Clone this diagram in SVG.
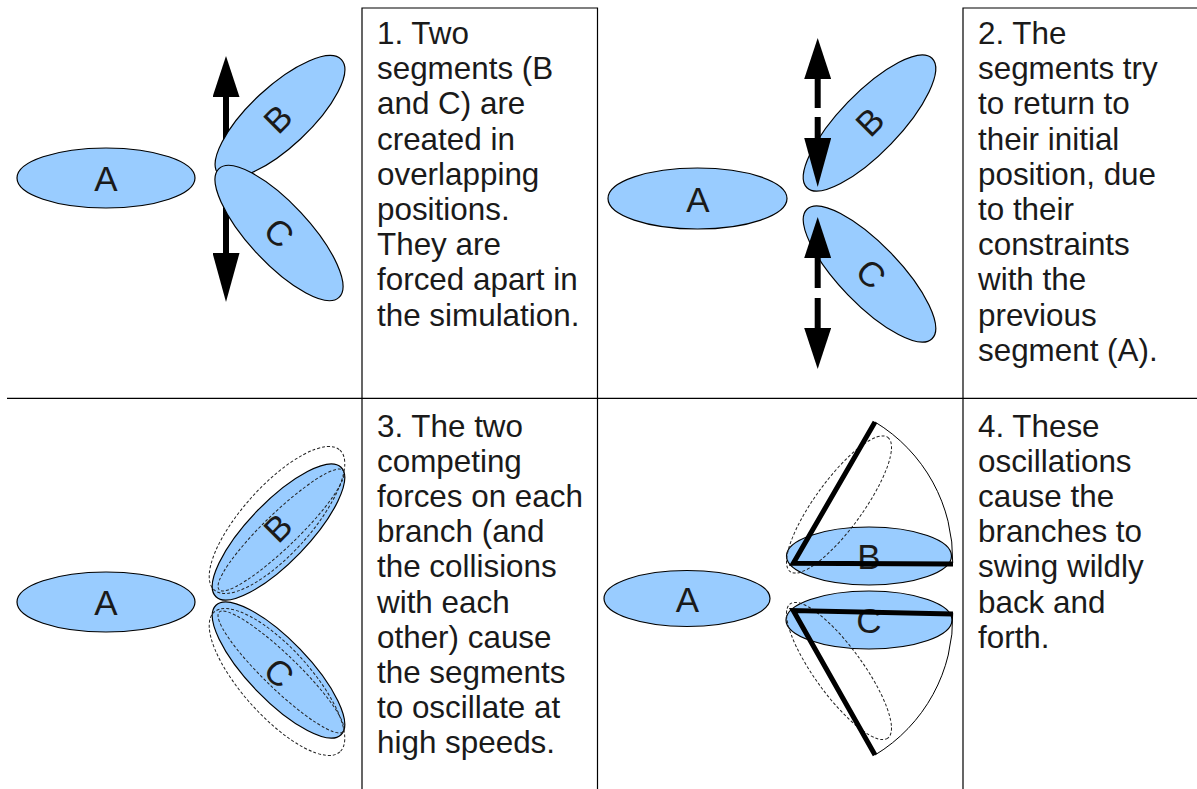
<svg xmlns="http://www.w3.org/2000/svg" width="1197" height="789" viewBox="0 0 1197 789">
<style>
.seg{fill:#99ccff;stroke:#000;stroke-width:1.2}
.dash{fill:none;stroke:#222;stroke-width:1;stroke-dasharray:3 2}
.lbl{font-family:"Liberation Sans",Arial,sans-serif;font-size:35px;fill:#1a1a1a;text-anchor:middle}
.txt{font-family:"Liberation Sans",Arial,sans-serif;font-size:31.4px;fill:#1a1a1a}
.frame{stroke:#000;stroke-width:1.2;fill:none}
.shaft{stroke:#000;stroke-width:6;fill:none}
.thick{stroke:#000;stroke-width:5;fill:none;stroke-linejoin:miter}
.arc{stroke:#000;stroke-width:1;fill:none}
</style>
<defs>
<marker id="ah" markerUnits="userSpaceOnUse" markerWidth="41" markerHeight="27" refX="0" refY="13.5" orient="auto-start-reverse" viewBox="0 0 41 27"><path d="M0,0L41,13.5L0,27z" fill="#000"/></marker>
<marker id="ahL" markerUnits="userSpaceOnUse" markerWidth="49" markerHeight="27" refX="0" refY="13.5" orient="auto-start-reverse" viewBox="0 0 49 27"><path d="M0,0L49,13.5L0,27z" fill="#000"/></marker>
</defs>
<rect width="1197" height="789" fill="#fff"/>

<g id="frames">
<path class="frame" d="M362,789V8H597.5V789"/>
<path class="frame" d="M963,789V8H1197"/>
<path class="frame" d="M7,398.3H1197"/>
</g>

<g id="connectors">
<line class="shaft" x1="226" y1="150" x2="226" y2="97" marker-end="url(#ah)"/>
<line class="shaft" x1="226" y1="205" x2="226" y2="253" marker-end="url(#ahL)"/>
</g>

<g id="p1-A"><ellipse class="seg" cx="106" cy="178" rx="89" ry="30"/><text class="lbl" x="106" y="191">A</text></g>
<g id="p1-B"><ellipse class="seg" cx="280" cy="117" rx="84" ry="30" transform="rotate(-43 280 117)"/><text class="lbl" x="278" y="131" transform="rotate(-45 278 119)">B</text></g>
<g id="p1-C"><ellipse class="seg" cx="279" cy="233" rx="88" ry="30" transform="rotate(47 279 233)"/><text class="lbl" x="279" y="245" transform="rotate(45 279 233)">C</text></g>
<g id="p1-text"><text class="txt"><tspan x="377" y="44">1. Two</tspan><tspan x="377" y="79.2">segments (B</tspan><tspan x="377" y="114.4">and C) are</tspan><tspan x="377" y="149.6">created in</tspan><tspan x="377" y="184.8">overlapping</tspan><tspan x="377" y="220">positions.</tspan><tspan x="377" y="255.2">They are</tspan><tspan x="377" y="290.4">forced apart in</tspan><tspan x="377" y="325.6">the simulation.</tspan></text></g>

<g id="p2-A"><ellipse class="seg" cx="697.5" cy="198.5" rx="89.5" ry="30.5"/><text class="lbl" x="698" y="211.5">A</text></g>
<g id="p2-B"><ellipse class="seg" cx="869.5" cy="123" rx="90" ry="30" transform="rotate(-46 869.5 123)"/><text class="lbl" x="870" y="134" transform="rotate(-45 870 122)">B</text></g>
<g id="p2-C"><ellipse class="seg" cx="869.5" cy="274" rx="90" ry="30" transform="rotate(46 869.5 274)"/><text class="lbl" x="871" y="286" transform="rotate(45 871 274)">C</text></g>
<g id="p2-arrows">
<line class="shaft" x1="817.7" y1="79" x2="817.7" y2="138" stroke-dasharray="29 9" marker-start="url(#ah)" marker-end="url(#ahL)"/>
<line class="shaft" x1="817.7" y1="258" x2="817.7" y2="328" stroke-dasharray="30 10" marker-start="url(#ah)" marker-end="url(#ah)"/>
</g>
<g id="p2-text"><text class="txt"><tspan x="978" y="44">2. The</tspan><tspan x="978" y="79.2">segments try</tspan><tspan x="978" y="114.4">to return to</tspan><tspan x="978" y="149.6">their initial</tspan><tspan x="978" y="184.8">position, due</tspan><tspan x="978" y="220">to their</tspan><tspan x="978" y="255.2">constraints</tspan><tspan x="978" y="290.4">with the</tspan><tspan x="978" y="325.6">previous</tspan><tspan x="978" y="360.8">segment (A).</tspan></text></g>

<g id="p3-A"><ellipse class="seg" cx="106" cy="602" rx="89" ry="30"/><text class="lbl" x="106" y="615">A</text></g>
<g id="p3-B"><ellipse class="seg" cx="278.5" cy="532" rx="90" ry="30" transform="rotate(-46 278.5 532)"/>
<ellipse class="dash" cx="277" cy="520" rx="94" ry="34" transform="rotate(-48 277 520)"/>
<ellipse class="dash" cx="281" cy="530" rx="86" ry="17" transform="rotate(-44 281 530)"/>
<text class="lbl" x="278" y="540" transform="rotate(-45 278 528)">B</text></g>
<g id="p3-C"><ellipse class="seg" cx="278.5" cy="670" rx="90" ry="30" transform="rotate(46 278.5 670)"/>
<ellipse class="dash" cx="277" cy="682" rx="94" ry="34" transform="rotate(48 277 682)"/>
<ellipse class="dash" cx="281" cy="672" rx="86" ry="17" transform="rotate(44 281 672)"/>
<text class="lbl" x="279" y="685" transform="rotate(45 279 673)">C</text></g>
<g id="p3-text"><text class="txt"><tspan x="377" y="436.5">3. The two</tspan><tspan x="377" y="471.7">competing</tspan><tspan x="377" y="506.9">forces on each</tspan><tspan x="377" y="542.1">branch (and</tspan><tspan x="377" y="577.3">the collisions</tspan><tspan x="377" y="612.5">with each</tspan><tspan x="377" y="647.7">other) cause</tspan><tspan x="377" y="682.9">the segments</tspan><tspan x="377" y="718.1">to oscillate at</tspan><tspan x="377" y="753.3">high speeds.</tspan></text></g>

<g id="p4-A"><ellipse class="seg" cx="687" cy="598.5" rx="83" ry="28"/><text class="lbl" x="687.5" y="611.5">A</text></g>
<g id="p4-B"><ellipse class="seg" cx="869" cy="556" rx="82.5" ry="29"/>
<ellipse class="dash" cx="839" cy="504.5" rx="83" ry="24" transform="rotate(-54 839 504.5)"/>
<text class="lbl" x="869" y="569">B</text></g>
<g id="p4-C"><ellipse class="seg" cx="869" cy="620" rx="83" ry="29"/>
<ellipse class="dash" cx="839" cy="671" rx="83" ry="24" transform="rotate(54 839 671)"/>
<text class="lbl" x="869" y="633">C</text></g>
<g id="p4-swing">
<path class="thick" d="M875,422L793.3,563.3L953,564"/>
<path class="thick" d="M875,755L793.3,610.5L953,614"/>
<path class="arc" d="M875,422A161,161 0 0 1 952.7,563"/>
<path class="arc" d="M952.7,613A161,161 0 0 1 875,755"/>
</g>
<g id="p4-text"><text class="txt"><tspan x="978" y="436.5">4. These</tspan><tspan x="978" y="471.7">oscillations</tspan><tspan x="978" y="506.9">cause the</tspan><tspan x="978" y="542.1">branches to</tspan><tspan x="978" y="577.3">swing wildly</tspan><tspan x="978" y="612.5">back and</tspan><tspan x="978" y="647.7">forth.</tspan></text></g>
</svg>
